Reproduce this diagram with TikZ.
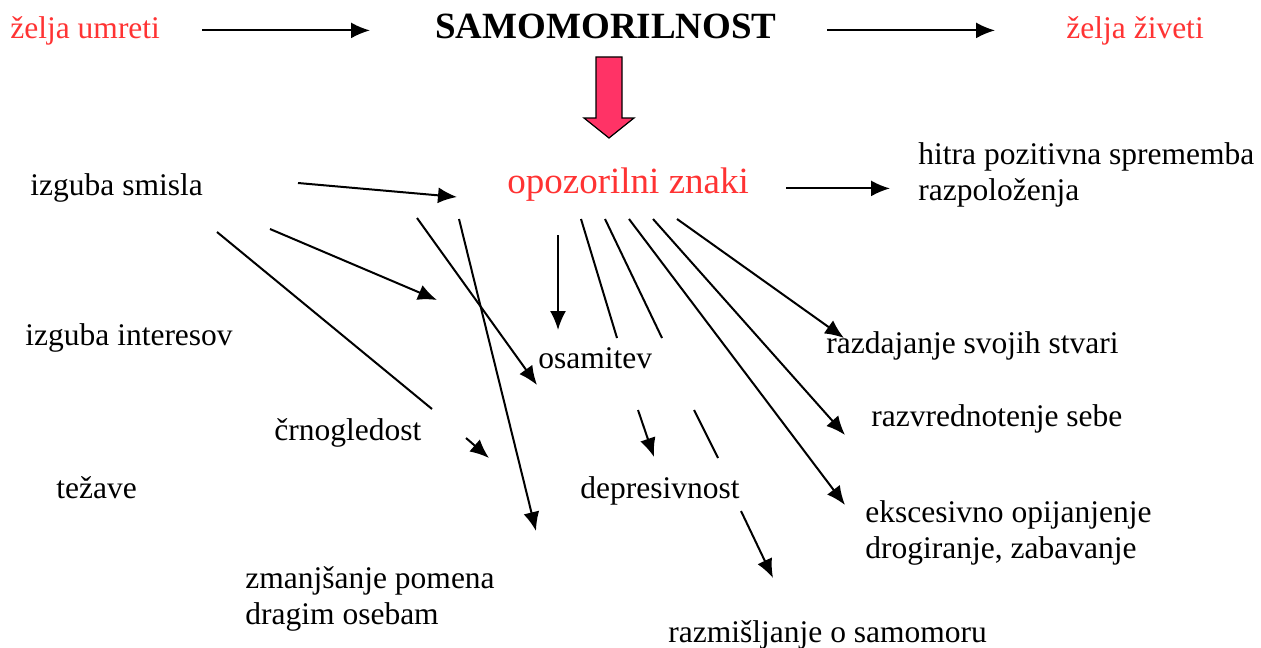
\documentclass[tikz,border=0pt]{standalone}
\usepackage{fontspec}
\setmainfont{Liberation Serif}
\usetikzlibrary{arrows.meta}
\definecolor{warnred}{RGB}{255,51,51}
\definecolor{arrowpink}{RGB}{255,51,102}

\begin{document}
\begin{tikzpicture}[x=0.5pt, y=-0.5pt,
  lbl/.style={inner sep=0pt, anchor=base west, align=left, font=\fontsize{15.75}{18}\selectfont},
  head/.style={inner sep=0pt, anchor=base west, font=\fontsize{18.5}{22}\selectfont},
  link/.style={->, line width=1pt, >={Latex[length=9.5pt, width=8pt]}},
  bare/.style={line width=1pt}]
\useasboundingbox (0,0) rectangle (1261,647);
% Texts (multi-line ones sit on their last line)
\node[lbl, text=warnred] (umreti) at (10,39) {želja umreti};
\node[head] (samo) at (435,39) {\textbf{SAMOMORILNOST}};
\node[lbl, text=warnred] (ziveti) at (1066,39) {želja živeti};
\node[head, text=warnred] (znaki) at (507,193) {opozorilni znaki};
\node[lbl] (smisla) at (30,195) {izguba smisla};
\node[lbl] (hitra) at (918,200) {hitra pozitivna sprememba\\razpoloženja};
\node[lbl] (interes) at (25,345) {izguba interesov};
\node[lbl] (osamitev) at (538,368) {osamitev};
\node[lbl] (razdaj) at (826,353) {razdajanje svojih stvari};
\node[lbl] (crno) at (274,440) {črnogledost};
\node[lbl] (razvred) at (871,426) {razvrednotenje sebe};
\node[lbl] (tezave) at (56,498) {težave};
\node[lbl] (depres) at (580,498) {depresivnost};
\node[lbl] (eksces) at (865,558) {ekscesivno opijanjenje\\drogiranje, zabavanje};
\node[lbl] (pomen) at (245,624) {zmanjšanje pomena\\dragim osebam};
\node[lbl] (misli) at (668,642) {razmišljanje o samomoru};
% big arrow
\draw[line width=0.6pt, fill=arrowpink] (596,57) -- (622,57) -- (622,118) -- (634,118) -- (609,138) -- (584,118) -- (596,118) -- cycle;
% loose ends
\coordinate (c1a) at (298,183); \coordinate (c1b) at (457,197);
\coordinate (c2a) at (270,229); \coordinate (c2b) at (437,300);
\coordinate (c3a) at (217,232); \coordinate (c3b) at (432,409);
\coordinate (c4a) at (417,218); \coordinate (c4b) at (537,385);
\coordinate (c5a) at (459,219); \coordinate (c5b) at (536,531);
\coordinate (c6a) at (558,235); \coordinate (c6b) at (558,330);
\coordinate (c7a) at (581,219); \coordinate (c7b) at (617,338);
\coordinate (c8a) at (605,219); \coordinate (c8b) at (662,338);
\coordinate (c9a) at (629,219); \coordinate (c9b) at (845,505);
\coordinate (c10a) at (653,219); \coordinate (c10b) at (845,435);
\coordinate (c11a) at (677,219); \coordinate (c11b) at (844,338);
\coordinate (c12a) at (638,410); \coordinate (c12b) at (654,457);
\coordinate (c13a) at (694,410); \coordinate (c13b) at (718,458);
\coordinate (c14a) at (466,438); \coordinate (c14b) at (489,458);
\coordinate (c15a) at (741,511); \coordinate (c15b) at (773,578);
% Arrows
\draw [link, shorten <=21pt, shorten >=32.5pt] ([yshift=2pt]umreti.east |- samo.mid west) -- ([yshift=2pt]samo.mid west);
\draw [link, shorten <=25pt, shorten >=35.5pt] ([yshift=2pt]samo.mid east) -- ([yshift=2pt]samo.mid east -| ziveti.west);
\draw [link, shorten <=18.5pt, shorten >=14pt] (znaki.mid east) -- (znaki.mid east -| hitra.west);
\draw [link] (c1a) -- (c1b);
\draw [link] (c2a) -- (c2b);
\draw [bare] (c3a) -- (c3b);
\draw [link] (c4a) -- (c4b);
\draw [link] (c5a) -- (c5b);
\draw [link] (c6a) -- (c6b);
\draw [bare] (c7a) -- (c7b);
\draw [bare] (c8a) -- (c8b);
\draw [link] (c9a) -- (c9b);
\draw [link] (c10a) -- (c10b);
\draw [link] (c11a) -- (c11b);
\draw [link] (c12a) -- (c12b);
\draw [bare] (c13a) -- (c13b);
\draw [link] (c14a) -- (c14b);
\draw [link] (c15a) -- (c15b);
\end{tikzpicture}
\end{document}
